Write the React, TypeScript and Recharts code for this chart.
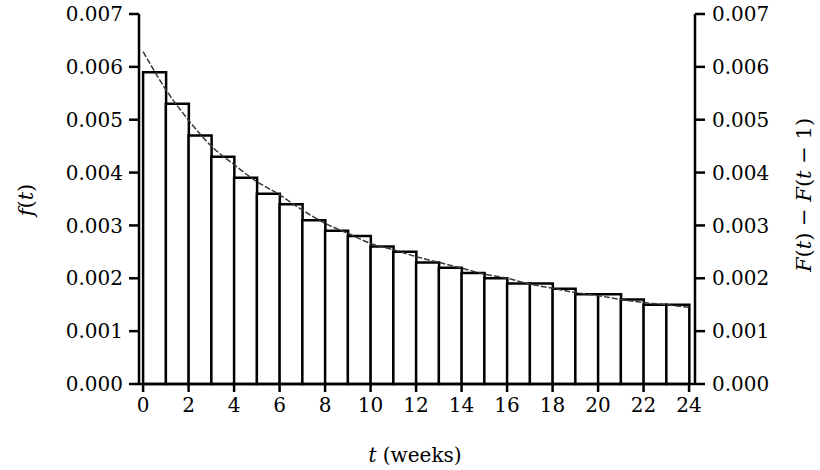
import React from 'react';
import { ComposedChart, Bar, Line, XAxis, YAxis, Label } from 'recharts';

// Histogram bars: F(t) - F(t-1) for week intervals [t-1, t]
const barStarts = [0, 1, 2, 3, 4, 5, 6, 7, 8, 9, 10, 11, 12, 13, 14, 15, 16, 17, 18, 19, 20, 21, 22, 23];
const barValues = [
  0.0059, 0.0053, 0.0047, 0.0043, 0.0039, 0.0036, 0.0034, 0.0031, 0.0029, 0.0028,
  0.0026, 0.0025, 0.0023, 0.0022, 0.0021, 0.0020, 0.0019, 0.0019, 0.0018, 0.0017,
  0.0017, 0.0016, 0.0015, 0.0015,
];

// Density curve f(t)
const curveTimes = [0, 1, 2, 3, 4, 5, 6, 7, 8, 9, 10, 11, 12, 13, 14, 15, 16, 17, 18, 19, 20, 21, 22, 23, 24];
const curveValues = [
  0.00629, 0.00557, 0.00499, 0.0045, 0.00415, 0.00383, 0.00358, 0.00329, 0.00304, 0.00285,
  0.00266, 0.00254, 0.00241, 0.0023, 0.00219, 0.00208, 0.002, 0.00189, 0.00181, 0.00173,
  0.00167, 0.0016, 0.00154, 0.0015, 0.00145,
];

const xTicks = [0, 2, 4, 6, 8, 10, 12, 14, 16, 18, 20, 22, 24];
const yTicks = [0, 0.001, 0.002, 0.003, 0.004, 0.005, 0.006, 0.007];

const barData = barStarts.map((s, i) => ({ mid: s + 0.5, v: barValues[i] }));
const curveData = curveTimes.map((t, i) => ({ t, f: curveValues[i] }));

const FONT = '"DejaVu Serif", "Liberation Serif", serif';
const xDomain = [-0.18, 24.26];
const yDomain = [0, 0.007];

const axisLineStyle = { stroke: '#000', strokeWidth: 2.5 };
const tickStyle = { fill: '#000', fontSize: 20, fontFamily: FONT };

const LeftLabel = (props: any) => {
  const vb = props.viewBox || { x: 0, y: 0, width: 0, height: 0 };
  const cx = vb.x + 26;
  const cy = vb.y + vb.height / 2 + 1;
  return (
    <text x={cx} y={cy} transform={`rotate(-90, ${cx}, ${cy})`} textAnchor="middle" dominantBaseline="central"
      fontFamily={FONT} fontSize={21} fill="#000">
      <tspan fontStyle="italic">f</tspan>(<tspan fontStyle="italic">t</tspan>)
    </text>
  );
};

const RightLabel = (props: any) => {
  const vb = props.viewBox || { x: 0, y: 0, width: 0, height: 0 };
  const cx = vb.x + 109;
  const cy = vb.y + vb.height / 2 - 4;
  return (
    <text x={cx} y={cy} transform={`rotate(-90, ${cx}, ${cy})`} textAnchor="middle" dominantBaseline="central"
      fontFamily={FONT} fontSize={21} fill="#000">
      <tspan fontStyle="italic">F</tspan>(<tspan fontStyle="italic">t</tspan>) {'\u2212'} <tspan fontStyle="italic">F</tspan>(<tspan fontStyle="italic">t</tspan> {'\u2212'} 1)
    </text>
  );
};

const BottomLabel = (props: any) => {
  const vb = props.viewBox || { x: 0, y: 0, width: 0, height: 0 };
  const cx = vb.x + vb.width / 2 - 2;
  const cy = vb.y + 71;
  return (
    <text x={cx} y={cy} textAnchor="middle" dominantBaseline="central" fontFamily={FONT} fontSize={20} fill="#000">
      <tspan fontStyle="italic">t</tspan> (weeks)
    </text>
  );
};

export default function App() {
  return (
    <div style={{ position: 'absolute', left: 0, top: 0, background: '#fff' }}>
      <ComposedChart
        width={820}
        height={470}
        data={barData}
        margin={{ top: 14, right: 0, bottom: 0, left: 0 }}
        barCategoryGap={0}
        barGap={0}
      >
        <XAxis
          xAxisId="main"
          dataKey="t"
          type="number"
          domain={xDomain}
          allowDataOverflow
          ticks={xTicks}
          interval={0}
          height={86}
          tickSize={8}
          tickMargin={6}
          axisLine={axisLineStyle}
          tickLine={axisLineStyle}
          tick={tickStyle}
        >
          <Label content={<BottomLabel />} />
        </XAxis>
        <XAxis xAxisId="b" dataKey="mid" type="number" domain={xDomain} allowDataOverflow hide height={0} />
        <YAxis
          yAxisId="l"
          type="number"
          domain={yDomain}
          ticks={yTicks}
          interval={0}
          width={139}
          tickSize={10}
          tickMargin={6}
          axisLine={axisLineStyle}
          tickLine={axisLineStyle}
          tick={tickStyle}
          tickFormatter={(v: number) => v.toFixed(3)}
        >
          <Label content={<LeftLabel />} />
        </YAxis>
        <YAxis
          yAxisId="r"
          orientation="right"
          type="number"
          domain={yDomain}
          ticks={yTicks}
          interval={0}
          width={125}
          tickSize={10}
          tickMargin={7}
          axisLine={axisLineStyle}
          tickLine={axisLineStyle}
          tick={tickStyle}
          tickFormatter={(v: number) => v.toFixed(3)}
        >
          <Label content={<RightLabel />} />
        </YAxis>
        <Bar
          xAxisId="b"
          yAxisId="l"
          dataKey="v"
          fill="#fff"
          stroke="#000"
          strokeWidth={2.5}
          isAnimationActive={false}
        />
        <Line
          xAxisId="main"
          yAxisId="r"
          data={curveData}
          dataKey="f"
          type="monotone"
          stroke="#3a3a3a"
          strokeWidth={1.5}
          strokeDasharray="6 2"
          dot={false}
          activeDot={false}
          isAnimationActive={false}
        />
      </ComposedChart>
    </div>
  );
}
